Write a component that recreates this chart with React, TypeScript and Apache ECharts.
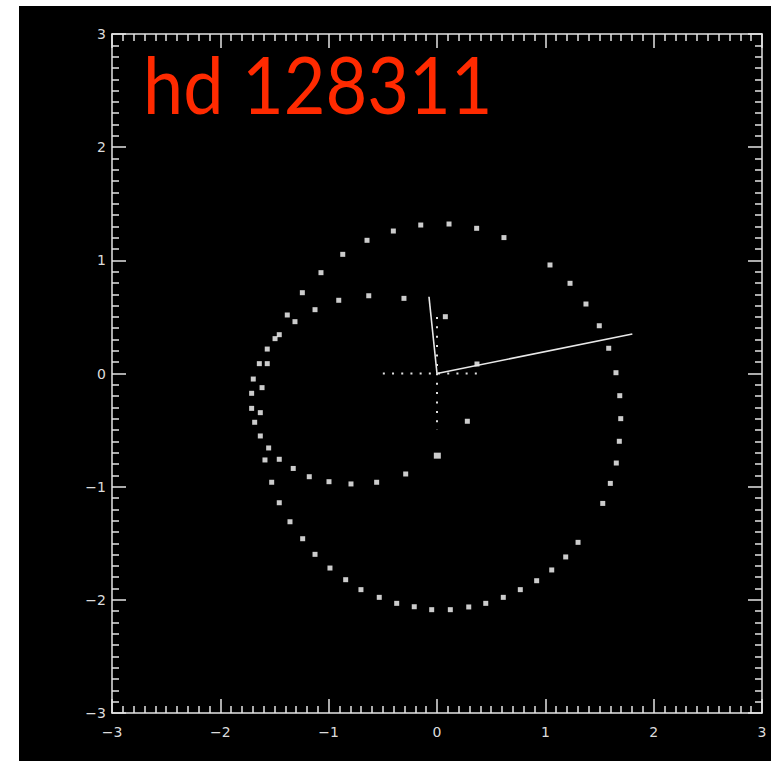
import React, { useEffect, useRef } from "react";
import * as echarts from "echarts";

// Outer orbit points [x, y]
const outerLoop: [number, number][] = [
  [-0.403, 1.259], [-0.150, 1.312], [0.111, 1.321], [0.366, 1.283], [0.618, 1.201],
  [1.043, 0.959], [1.228, 0.797], [1.375, 0.614], [1.498, 0.422], [1.585, 0.223],
  [1.652, 0.007], [1.687, -0.196], [1.696, -0.399], [1.683, -0.599], [1.655, -0.791],
  [1.600, -0.971], [1.530, -1.148], [1.302, -1.492], [1.188, -1.621], [1.059, -1.736],
  [0.920, -1.831], [0.769, -1.910], [0.612, -1.978], [0.450, -2.031], [0.293, -2.063],
  [0.123, -2.087], [-0.049, -2.087], [-0.210, -2.061], [-0.372, -2.031], [-0.533, -1.978],
  [-0.702, -1.910], [-0.843, -1.822], [-0.988, -1.719], [-1.126, -1.598], [-1.240, -1.460],
  [-1.357, -1.310], [-1.456, -1.142], [-1.526, -0.961], [-1.588, -0.764], [-1.631, -0.552],
  [-1.683, -0.431], [-1.711, -0.308], [-1.711, -0.175], [-1.696, -0.049], [-1.640, 0.087],
  [-1.567, 0.216], [-1.495, 0.308], [-1.382, 0.517], [-1.243, 0.714], [-1.071, 0.891],
  [-0.870, 1.053], [-0.646, 1.177],
];

// Inner orbit points [x, y]
const innerLoop: [number, number][] = [
  [-0.305, 0.664], [-0.630, 0.687], [-0.907, 0.647], [-1.126, 0.564], [-1.311, 0.458],
  [-1.456, 0.343], [-1.567, 0.087], [-1.615, -0.125], [-1.631, -0.346], [-1.554, -0.658],
  [-1.456, -0.758], [-1.327, -0.839], [-1.179, -0.912], [-0.997, -0.956], [-0.794, -0.976],
  [-0.557, -0.961], [-0.289, -0.888], [0.280, -0.422], [0.369, 0.084], [0.077, 0.502],
];

// Larger square marker
const bigPoint: [number, number][] = [[0.003, -0.726]];

// Vectors from origin
const vectorA: [number, number][] = [[0, 0], [-0.074, 0.678]];
const vectorB: [number, number][] = [[0, 0], [1.803, 0.349]];

// Dotted crosshair
const crossH: [number, number][] = [[-0.5, 0], [0.43, 0]];
const crossV: [number, number][] = [[0, 0.5], [0, -0.5]];

const axisMin = -3;
const axisMax = 3;
const axisStep = 1;
const titleText = "hd 128311";

const AX = "#e4e4e4";

function makeAxis(position: string, showLabel: boolean, isY: boolean) {
  return {
    type: "value",
    min: axisMin,
    max: axisMax,
    interval: axisStep,
    position,
    axisLine: { show: true, onZero: false, lineStyle: { color: AX, width: 1.5 } },
    axisTick: { show: true, inside: true, length: 14, lineStyle: { color: AX, width: 1.5 } },
    minorTick: { show: true, splitNumber: 10, length: 7, lineStyle: { color: AX, width: 1.5 } },
    splitLine: { show: false },
    minorSplitLine: { show: false },
    axisLabel: {
      show: showLabel,
      color: "#dcdcdc",
      fontSize: 14,
      fontFamily: "DejaVu Sans",
      margin: isY ? 6 : 12,
      formatter: (v: number) => String(v).replace("-", "\u2212"),
    },
  };
}

export default function App() {
  const ref = useRef<HTMLDivElement>(null);
  useEffect(() => {
    const chart = echarts.init(ref.current!, null, { renderer: "svg" });
    const pointStyle = { color: "#ffffff" };
    chart.setOption({
      animation: false,
      backgroundColor: "#000000",
      grid: { left: 93, right: 9, top: 28, bottom: 48, containLabel: false },
      xAxis: [makeAxis("bottom", true, false), makeAxis("top", false, false)],
      yAxis: [makeAxis("left", true, true), makeAxis("right", false, true)],
      graphic: [
        {
          type: "text",
          left: 124,
          top: 37,
          scaleX: 0.9,
          style: {
            text: titleText,
            fill: "#ff2a00",
            fontSize: 80,
            fontFamily: "Lato",
          },
        },
      ],
      series: [
        {
          type: "line",
          data: crossH,
          symbol: "none",
          lineStyle: { color: "#e0e0e0", width: 2, type: [2, 7.2] },
        },
        {
          type: "line",
          data: crossV,
          symbol: "none",
          lineStyle: { color: "#e0e0e0", width: 2, type: [2, 7.4] },
        },
        {
          type: "scatter",
          data: outerLoop,
          symbol: "rect",
          symbolSize: 5,
          itemStyle: pointStyle,
        },
        {
          type: "scatter",
          data: innerLoop,
          symbol: "rect",
          symbolSize: 5,
          itemStyle: pointStyle,
        },
        {
          type: "scatter",
          data: bigPoint,
          symbol: "rect",
          symbolSize: [7, 6],
          itemStyle: pointStyle,
        },
        {
          type: "line",
          data: vectorA,
          symbol: "none",
          lineStyle: { color: "#e8e8e8", width: 1.6 },
        },
        {
          type: "line",
          data: vectorB,
          symbol: "none",
          lineStyle: { color: "#e8e8e8", width: 1.6 },
        },
      ],
    });
    return () => chart.dispose();
  }, []);
  return (
    <div style={{ position: "fixed", left: 0, top: 0, width: 771, height: 761, background: "#ffffff" }}>
      <div ref={ref} style={{ position: "absolute", left: 19, top: 6, width: 752, height: 755 }} />
    </div>
  );
}
